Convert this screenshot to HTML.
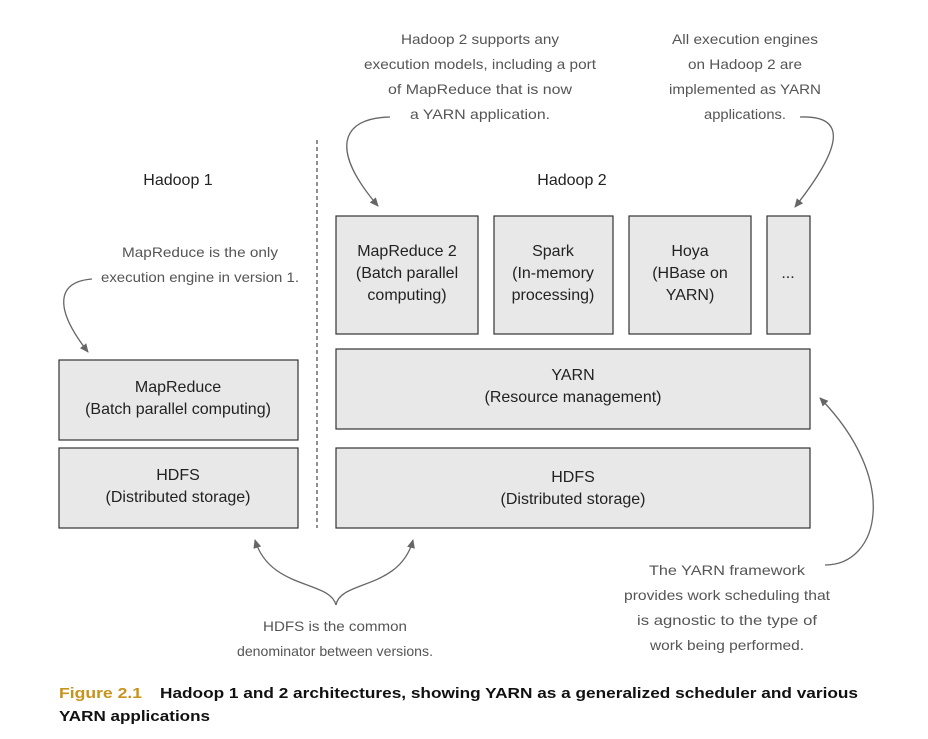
<!DOCTYPE html>
<html><head><meta charset="utf-8"><style>
html,body{margin:0;padding:0;background:#fff;}
svg{display:block;}
.b{fill:#e8e8e8;stroke:#333;stroke-width:1.2;}
.t{font-family:"Liberation Sans",Arial,sans-serif;font-size:16px;fill:#222;text-anchor:middle;}
.h{font-family:"Liberation Sans Narrow","Liberation Sans",sans-serif;font-size:14px;fill:#555;text-anchor:middle;}
.a{fill:none;stroke:#666;stroke-width:1.3;}
.c{font-family:"Liberation Sans Narrow","Liberation Sans",sans-serif;font-size:15px;font-weight:bold;}
</style></head><body>
<svg width="928" height="739" viewBox="0 0 928 739" xmlns="http://www.w3.org/2000/svg">
<defs><marker id="m" markerWidth="10" markerHeight="10" refX="8" refY="5" orient="auto" markerUnits="userSpaceOnUse"><path d="M0,1 L9,5 L0,9 z" fill="#666"/></marker></defs>
<line x1="317" y1="140" x2="317" y2="528" stroke="#222" stroke-width="1" stroke-dasharray="4,3"/>
<text class="t" x="178" y="185">Hadoop 1</text>
<text class="t" x="572" y="185">Hadoop 2</text>
<rect class="b" x="59" y="360" width="239" height="80"/>
<text class="t" x="178" y="392">MapReduce</text><text class="t" x="178" y="414">(Batch parallel computing)</text>
<rect class="b" x="59" y="448" width="239" height="80"/>
<text class="t" x="178" y="480">HDFS</text><text class="t" x="178" y="502">(Distributed storage)</text>
<rect class="b" x="336" y="216" width="142" height="118"/>
<text class="t" x="407" y="256">MapReduce 2</text><text class="t" x="407" y="278">(Batch parallel</text><text class="t" x="407" y="300">computing)</text>
<rect class="b" x="494" y="216" width="119" height="118"/>
<text class="t" x="553" y="256">Spark</text><text class="t" x="553" y="278">(In-memory</text><text class="t" x="553" y="300">processing)</text>
<rect class="b" x="629" y="216" width="122" height="118"/>
<text class="t" x="690" y="256">Hoya</text><text class="t" x="690" y="278">(HBase on</text><text class="t" x="690" y="300">YARN)</text>
<rect class="b" x="767" y="216" width="43" height="118"/>
<text class="t" x="788" y="278">...</text>
<rect class="b" x="336" y="349" width="474" height="80"/>
<text class="t" x="573" y="380">YARN</text><text class="t" x="573" y="402">(Resource management)</text>
<rect class="b" x="336" y="448" width="474" height="80"/>
<text class="t" x="573" y="482">HDFS</text><text class="t" x="573" y="504">(Distributed storage)</text>
<text class="h" x="480" y="44" textLength="158" lengthAdjust="spacingAndGlyphs">Hadoop 2 supports any</text>
<text class="h" x="480" y="69" textLength="232" lengthAdjust="spacingAndGlyphs">execution models, including a port</text>
<text class="h" x="480" y="94" textLength="184" lengthAdjust="spacingAndGlyphs">of MapReduce that is now</text>
<text class="h" x="480" y="119" textLength="140" lengthAdjust="spacingAndGlyphs">a YARN application.</text>
<path class="a" d="M390,117 C340,118 330,150 378,206" marker-end="url(#m)"/>
<text class="h" x="745" y="44" textLength="146" lengthAdjust="spacingAndGlyphs">All execution engines</text>
<text class="h" x="745" y="69" textLength="114" lengthAdjust="spacingAndGlyphs">on Hadoop 2 are</text>
<text class="h" x="745" y="94" textLength="152" lengthAdjust="spacingAndGlyphs">implemented as YARN</text>
<text class="h" x="745" y="119" textLength="82" lengthAdjust="spacingAndGlyphs">applications.</text>
<path class="a" d="M800,117 C850,115 840,150 795,207" marker-end="url(#m)"/>
<text class="h" x="200" y="257" textLength="156" lengthAdjust="spacingAndGlyphs">MapReduce is the only</text>
<text class="h" x="200" y="282" textLength="198" lengthAdjust="spacingAndGlyphs">execution engine in version 1.</text>
<path class="a" d="M92,279 C55,282 55,310 88,352" marker-end="url(#m)"/>
<text class="h" x="335" y="631" textLength="144" lengthAdjust="spacingAndGlyphs">HDFS is the common</text>
<text class="h" x="335" y="656" textLength="196" lengthAdjust="spacingAndGlyphs">denominator between versions.</text>
<path class="a" d="M336,605 C330,580 270,590 255,540" marker-end="url(#m)"/>
<path class="a" d="M336,605 C340,580 400,590 413,540" marker-end="url(#m)"/>
<text class="h" x="727" y="575" textLength="156" lengthAdjust="spacingAndGlyphs">The YARN framework</text>
<text class="h" x="727" y="600" textLength="206" lengthAdjust="spacingAndGlyphs">provides work scheduling that</text>
<text class="h" x="727" y="625" textLength="180" lengthAdjust="spacingAndGlyphs">is agnostic to the type of</text>
<text class="h" x="727" y="650" textLength="154" lengthAdjust="spacingAndGlyphs">work being performed.</text>
<path class="a" d="M825,565 C880,565 900,480 820,398" marker-end="url(#m)"/>
<text class="c" x="59" y="698" fill="#c8931a" textLength="83" lengthAdjust="spacingAndGlyphs">Figure 2.1</text>
<text class="c" x="160" y="698" fill="#111" textLength="698" lengthAdjust="spacingAndGlyphs">Hadoop 1 and 2 architectures, showing YARN as a generalized scheduler and various</text>
<text class="c" x="59" y="721" fill="#111" textLength="151" lengthAdjust="spacingAndGlyphs">YARN applications</text>
</svg>
</body></html>
